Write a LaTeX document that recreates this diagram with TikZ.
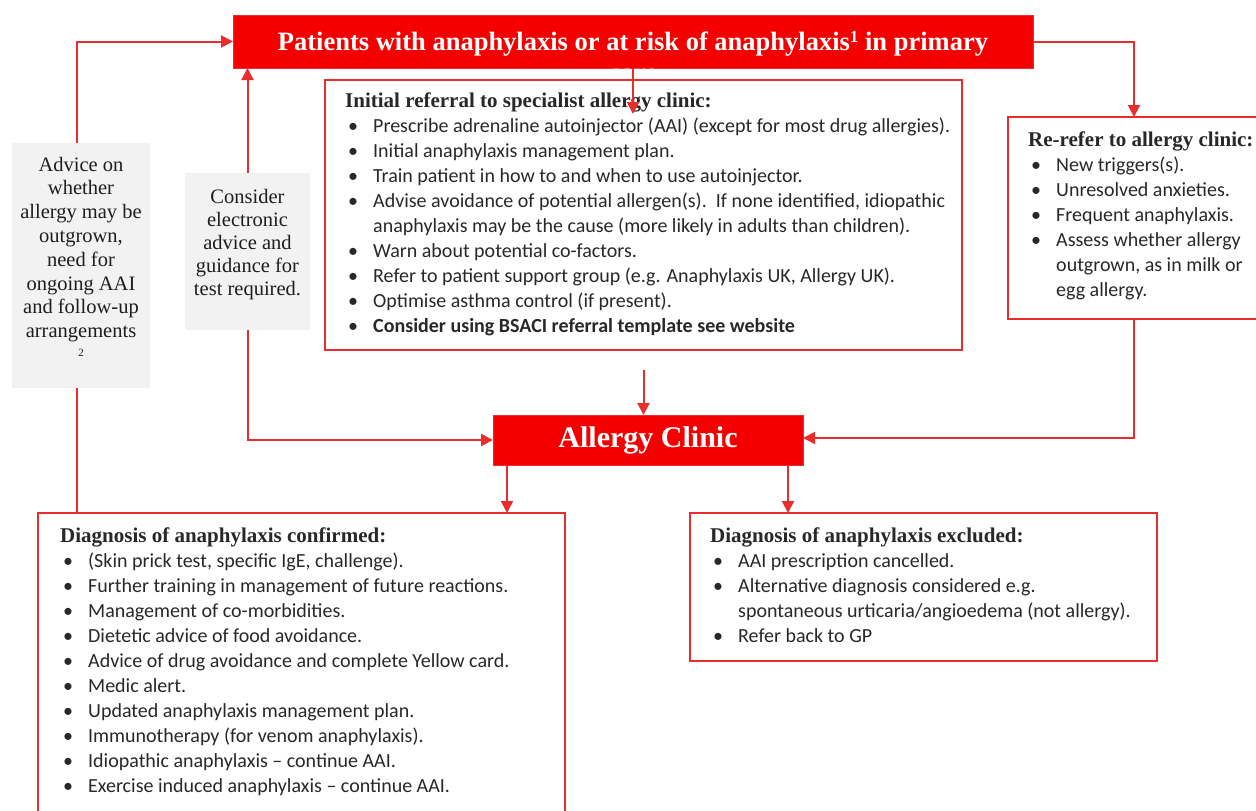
\documentclass[tikz,border=0pt]{standalone}
\usepackage{fontspec}
\setmainfont{Carlito}
\newfontfamily\serif{Liberation Serif}
\usetikzlibrary{arrows.meta}
\definecolor{lnred}{RGB}{232,45,45}
\definecolor{boxred}{RGB}{245,0,0}
\definecolor{gbox}{RGB}{242,242,242}
\definecolor{txt}{RGB}{40,40,40}
\definecolor{gtxt}{RGB}{30,30,30}
\newcommand\lstack[2][25pt]{\vtop{\baselineskip=#1\relax\lineskip=0pt\lineskiplimit=-100pt\halign{##\hfil\cr#2\crcr}}}
\newcommand\cstack[2][23.8pt]{\vtop{\baselineskip=#1\relax\lineskip=0pt\lineskiplimit=-100pt\halign{\hfil##\hfil\cr#2\crcr}}}
\newcommand\bul{\hspace*{3pt}\makebox[25pt][l]{\textbullet}}
\newcommand\cont{\hspace*{28pt}}
\newcommand\hd[1]{{\serif\bfseries\fontsize{21}{25}\selectfont #1}}
\begin{document}
\begin{tikzpicture}[x=1pt,y=-1pt,
  frame/.style={draw=lnred, line width=2pt, fill=white, inner sep=0pt, outer sep=0pt},
  redbox/.style={draw=lnred, line width=1pt, fill=boxred, inner sep=0pt, outer sep=0pt},
  graybox/.style={draw=none, fill=gbox, inner sep=0pt, outer sep=0pt},
  body/.style={anchor=base west, inner sep=0pt, text=txt, font=\fontsize{20}{25}\selectfont},
  gtext/.style={anchor=base, inner sep=0pt, text=gtxt, font=\serif\fontsize{20.5}{23.8}\selectfont},
  conn/.style={draw=lnred, line width=2pt},
  arr/.style={conn, -{Triangle[length=12pt,width=12pt]}}]
\useasboundingbox (0,0) rectangle (1256,811);
% boxes
\node[redbox, minimum width=800pt, minimum height=53pt] (top) at (633,41.5) {};
\node[anchor=base, inner sep=0pt, text=white, font=\serif\bfseries\fontsize{26.5}{28}\selectfont] (topt) at (633,50)
  {\cstack[31pt]{Patients with anaphylaxis or at risk of anaphylaxis{\fontsize{17}{18}\selectfont\raisebox{8pt}{1}} in primary\cr care\cr}};
\node[frame, minimum width=637pt, minimum height=270pt] (ref) at (643.5,215) {};
\node[frame, minimum width=252pt, minimum height=202pt] (rr) at (1134,218) {};
\node[graybox, minimum width=138pt, minimum height=245pt] (adv) at (81,265.5) {};
\node[graybox, minimum width=125pt, minimum height=157pt] (cons) at (247.5,251.5) {};
\node[redbox, minimum width=310pt, minimum height=50pt, text=white, font=\serif\bfseries\fontsize{30}{32}\selectfont] (clinic) at (648,440) {Allergy Clinic};
\node[frame, minimum width=527pt, minimum height=302pt] (conf) at (301.5,664) {};
\node[frame, minimum width=467pt, minimum height=148pt] (excl) at (923.5,587) {};
% texts
\node[body] (reft) at (345,107) {\lstack{\hd{Initial referral to specialist allergy clinic:}\cr
\bul Prescribe adrenaline autoinjector (AAI) (except for most drug allergies).\cr
\bul Initial anaphylaxis management plan.\cr
\bul Train patient in how to and when to use autoinjector.\cr
\bul Advise avoidance of potential allergen(s).\ \ If none identified, idiopathic\cr
\cont anaphylaxis may be the cause (more likely in adults than children).\cr
\bul Warn about potential co-factors.\cr
\bul Refer to patient support group (e.g. Anaphylaxis UK, Allergy UK).\cr
\bul Optimise asthma control (if present).\cr
\bul\textbf{Consider using BSACI referral template see website}\cr}};
\node[body] (rrt) at (1028,146) {\lstack{\hd{Re-refer to allergy clinic:}\cr
\bul New triggers(s).\cr
\bul Unresolved anxieties.\cr
\bul Frequent anaphylaxis.\cr
\bul Assess whether allergy\cr
\cont outgrown, as in milk or\cr
\cont egg allergy.\cr}};
\node[gtext] (advt) at (81,171) {\cstack{Advice on\cr whether\cr allergy may be\cr outgrown,\cr need for\cr ongoing AAI\cr and follow-up\cr arrangements\cr\noalign{\vskip-5pt}{\fontsize{11}{12}\selectfont 2}\cr}};
\node[gtext] (const) at (247.5,203) {\cstack[23pt]{Consider\cr electronic\cr advice and\cr guidance for\cr test required.\cr}};
\node[body] (conft) at (60,542) {\lstack{\hd{Diagnosis of anaphylaxis confirmed:}\cr
\bul (Skin prick test, specific IgE, challenge).\cr
\bul Further training in management of future reactions.\cr
\bul Management of co-morbidities.\cr
\bul Dietetic advice of food avoidance.\cr
\bul Advice of drug avoidance and complete Yellow card.\cr
\bul Medic alert.\cr
\bul Updated anaphylaxis management plan.\cr
\bul Immunotherapy (for venom anaphylaxis).\cr
\bul Idiopathic anaphylaxis -- continue AAI.\cr
\bul Exercise induced anaphylaxis -- continue AAI.\cr}};
\node[body] (exclt) at (710,542) {\lstack{\hd{Diagnosis of anaphylaxis excluded:}\cr
\bul AAI prescription cancelled.\cr
\bul Alternative diagnosis considered e.g.\cr
\cont spontaneous urticaria/angioedema (not allergy).\cr
\bul Refer back to GP\cr}};
% connectors
\coordinate (refTip) at (633,114);
\draw[arr] (top.south) -- (refTip);
\draw[arr] ([xshift=-4pt]adv.north) |- (top.west);
\draw[conn] ([xshift=-4pt]adv.south) -- ([xshift=-4pt]adv.south |- conf.north);
\draw[arr] (cons.north) -- (cons.north |- top.south);
\draw[arr] (cons.south) |- (clinic.west);
\draw[arr] (top.east) -| (rr.north);
\draw[arr] (rr.south) |- ([yshift=2pt]clinic.east);
\draw[arr] ([yshift=-20pt]ref.south) -- (ref.south |- clinic.north);
\draw[arr] ([xshift=-141pt]clinic.south) -- ([xshift=-141pt]clinic.south |- conf.north);
\draw[arr] ([xshift=140pt]clinic.south) -- ([xshift=140pt]clinic.south |- excl.north);
\end{tikzpicture}
\end{document}
